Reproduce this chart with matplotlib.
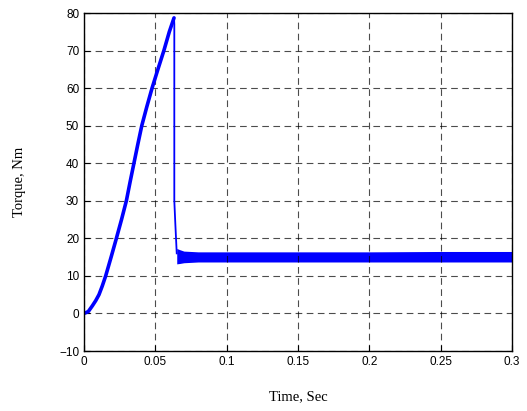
import numpy as np
import matplotlib.pyplot as plt

# motor start-up: torque ramps up, drops once the speed loop settles
t_start = [0, 0.003, 0.0058, 0.0082, 0.0105, 0.0128, 0.0152, 0.019, 0.0227, 0.0263,
           0.0297, 0.0323, 0.0350, 0.0377, 0.0405, 0.0440, 0.0477, 0.0518, 0.0560,
           0.0598, 0.0631]
tq_start = [0, 0.5, 2.0, 3.4, 5.0, 7.3, 10, 15, 20, 25,
            30, 35, 40, 45, 50, 55, 60, 65, 70,
            75, 78.7]

# fall back to load torque
t_drop = [0.0631, 0.0633, 0.0633, 0.0640, 0.0645, 0.0650]
tq_drop = [78.7, 77, 30, 24, 20, 16]

# steady-state ripple band (lower / upper envelope)
t_band = [0.065, 0.067, 0.07, 0.08, 0.1, 0.15, 0.2, 0.25, 0.3]
tq_low = [13.2, 13.3, 13.5, 13.7, 13.7, 13.7, 13.7, 13.7, 13.7]
tq_high = [17.3, 17.0, 16.6, 16.4, 16.4, 16.4, 16.4, 16.5, 16.5]

fig = plt.figure(figsize=(5.27, 4.11), dpi=100)
ax = fig.add_axes([84/527, 1 - 351/411, 428/527, 338/411])

ax.plot(t_start, tq_start, color='blue', lw=2.6, solid_capstyle='round')
ax.plot(t_drop, tq_drop, color='blue', lw=1.3)
ax.fill_between(t_band, tq_low, tq_high, color='blue', lw=0)

ax.set_xlim(0, 0.3)
ax.set_ylim(-10, 80)
ax.set_xticks([0, 0.05, 0.1, 0.15, 0.2, 0.25, 0.3])
ax.set_xticklabels(['0', '0.05', '0.1', '0.15', '0.2', '0.25', '0.3'])
ax.set_yticks(np.arange(-10, 81, 10))
ax.tick_params(direction='in', length=4, labelsize=8.5, width=0.8)
for lab in ax.get_xticklabels() + ax.get_yticklabels():
    lab.set_fontfamily('Liberation Sans')
ax.grid(True, color='black', ls=(0, (6, 4)), lw=0.8, alpha=0.7)
for s in ax.spines.values():
    s.set_linewidth(1.0)

ax.set_xlabel('Time, Sec', family='Liberation Serif', fontsize=10.5, labelpad=16)
ax.set_ylabel('Torque, Nm', family='Liberation Serif', fontsize=10.5, labelpad=24)

fig.savefig('out.png', dpi=100)
